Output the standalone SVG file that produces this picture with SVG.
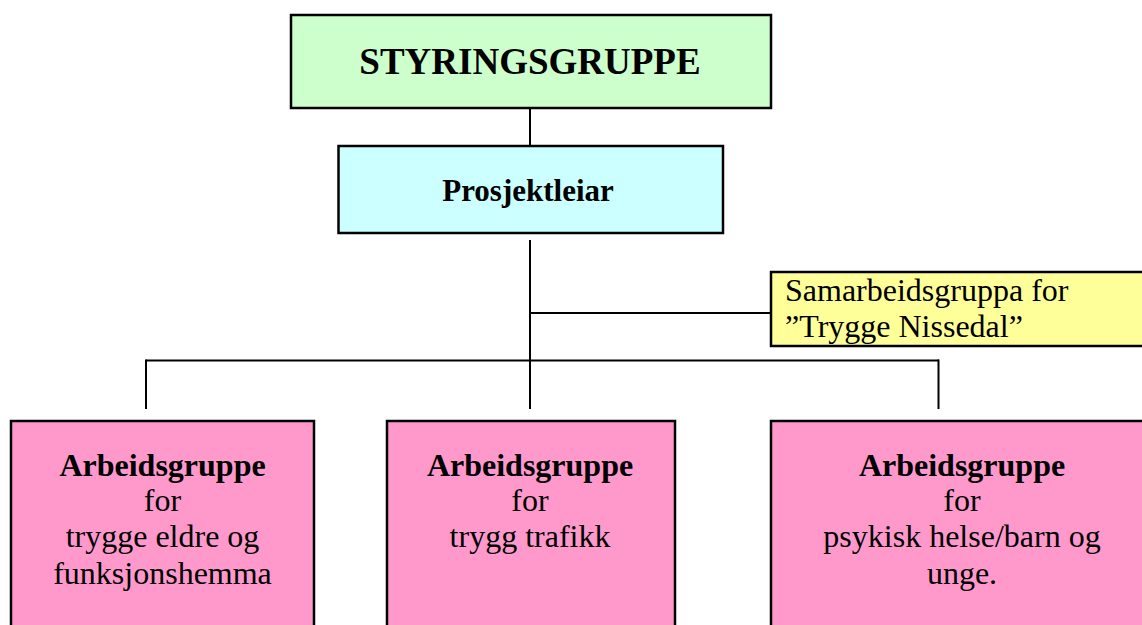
<svg xmlns="http://www.w3.org/2000/svg" width="1142" height="625" viewBox="0 0 1142 625">
<style>
.box{stroke:#000;stroke-width:2.5}
.conn line{stroke:#000;stroke-width:2}
text{font-family:"Liberation Serif","Times New Roman",serif;fill:#000}
.b{font-weight:bold}
.mid{text-anchor:middle}
.t32{font-size:32px}
</style>
<rect width="1142" height="625" fill="#fff"/>
<g id="connectors" class="conn">
<line x1="530" y1="108" x2="530" y2="146"/>
<line x1="530" y1="240" x2="530" y2="409"/>
<line x1="530" y1="313" x2="771" y2="313"/>
<line x1="146" y1="360.5" x2="939" y2="360.5"/>
<line x1="146" y1="359.5" x2="146" y2="409"/>
<line x1="938.5" y1="359.5" x2="938.5" y2="409"/>
</g>
<g id="styringsgruppe">
<rect class="box" x="291" y="15" width="480" height="93" fill="#CCFFCC"/>
<text class="b mid" x="530" y="74" font-size="37">STYRINGSGRUPPE</text>
</g>
<g id="prosjektleiar">
<rect class="box" x="338.5" y="146" width="384.5" height="87" fill="#CCFFFF"/>
<text class="b mid" x="528" y="201" font-size="31">Prosjektleiar</text>
</g>
<g id="samarbeidsgruppa">
<rect class="box" x="771" y="272" width="380" height="74" fill="#FFFF99"/>
<text class="t32" x="785" y="301">Samarbeidsgruppa for</text>
<text class="t32" x="785" y="337">”Trygge Nissedal”</text>
</g>
<g id="arbeidsgruppe-eldre">
<rect class="box" x="11" y="421" width="303" height="215" fill="#FF99CC"/>
<text class="t32 mid" x="162.5"><tspan class="b" x="162.5" y="476">Arbeidsgruppe</tspan><tspan x="162.5" y="511">for</tspan><tspan x="162.5" y="547">trygge eldre og</tspan><tspan x="162.5" y="584">funksjonshemma</tspan></text>
</g>
<g id="arbeidsgruppe-trafikk">
<rect class="box" x="387" y="421" width="288" height="215" fill="#FF99CC"/>
<text class="t32 mid" x="530"><tspan class="b" x="530" y="476">Arbeidsgruppe</tspan><tspan x="530" y="511">for</tspan><tspan x="530" y="547">trygg trafikk</tspan></text>
</g>
<g id="arbeidsgruppe-psykisk">
<rect class="box" x="771" y="421" width="385" height="215" fill="#FF99CC"/>
<text class="t32 mid" x="962"><tspan class="b" x="962" y="476">Arbeidsgruppe</tspan><tspan x="962" y="511">for</tspan><tspan x="962" y="547">psykisk helse/barn og</tspan><tspan x="962" y="584">unge.</tspan></text>
</g>
</svg>
